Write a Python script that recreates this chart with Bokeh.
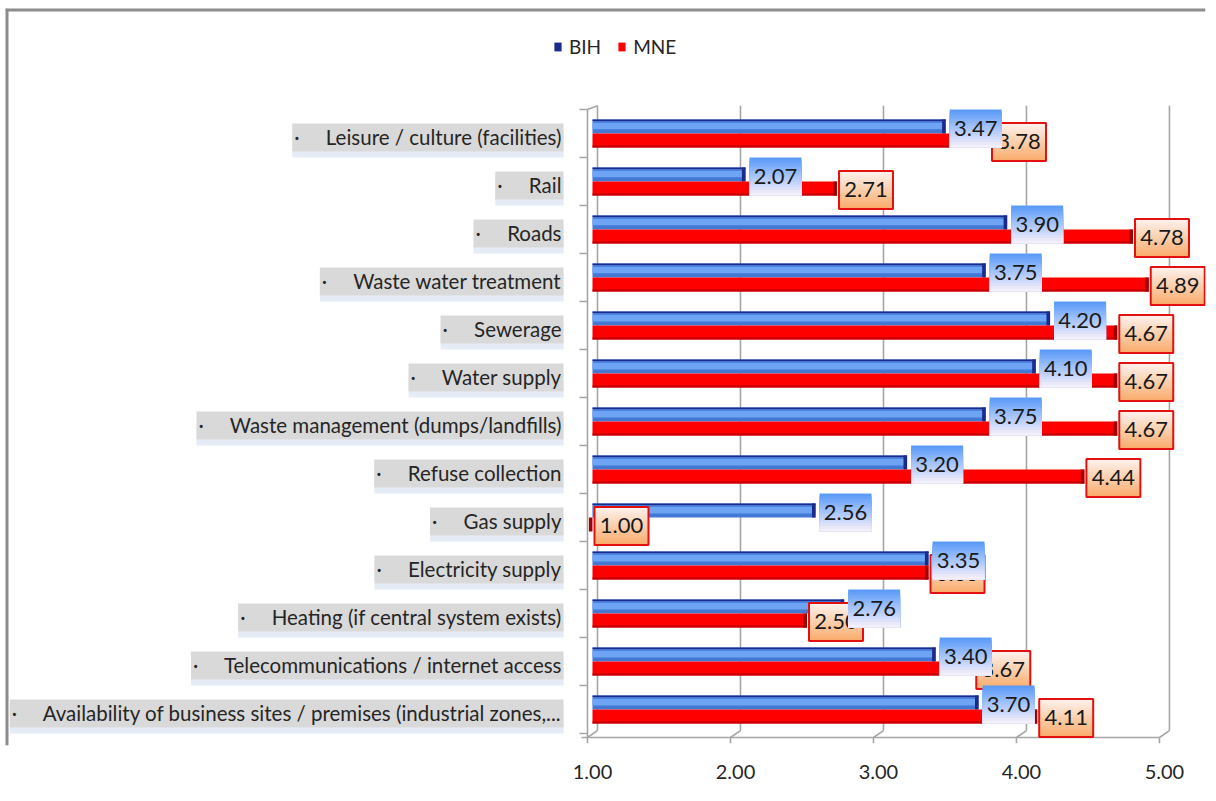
import numpy as np
from bokeh.plotting import figure
from bokeh.models import Range1d, FixedTicker, NumeralTickFormatter, Legend, LegendItem
from bokeh.core.properties import value
from bokeh.embed import file_html
from bokeh.resources import INLINE

# ---------------- data (top to bottom) ----------------
categories = [
    "Leisure / culture (facilities)",
    "Rail",
    "Roads",
    "Waste water treatment",
    "Sewerage",
    "Water supply",
    "Waste management (dumps/landfills)",
    "Refuse collection",
    "Gas supply",
    "Electricity supply",
    "Heating (if central system exists)",
    "Telecommunications / internet access",
    "Availability of business sites / premises (industrial zones,...",
]
bih = [3.47, 2.07, 3.90, 3.75, 4.20, 4.10, 3.75, 3.20, 2.56, 3.35, 2.76, 3.40, 3.70]
mne = [3.78, 2.71, 4.78, 4.89, 4.67, 4.67, 4.67, 4.44, 1.00, 3.35, 2.50, 3.67, 4.11]
series_names = ["BIH", "MNE"]
x_ticks = [1, 2, 3, 4, 5]

# ---------------- setup ----------------
FONT = value("Lato")
PXX = 143.0   # pixels per x unit
PXY = 48.0    # pixels per y unit
n = len(categories)
ypos = np.arange(n)[::-1].astype(float)
bih_a = np.array(bih)
mne_a = np.array(mne)

X0, X1 = -3.105, 5.287
Y0, Y1 = -0.75, 14.604
p = figure(width=1203, height=785,
           x_range=Range1d(X0, X1), y_range=Range1d(Y0, Y1),
           output_backend="svg", toolbar_location=None, y_axis_location=None,
           min_border_left=0, min_border_right=3, min_border_top=0, min_border_bottom=48,
           styles={"margin-left": "5px", "margin-top": "8px"})
p.outline_line_color = None
p.xgrid.visible = False
p.ygrid.visible = False
p.background_fill_color = "white"
p.border_fill_color = "white"

# chart-area frame (top and left edges, as in the cropped original)
p.segment(x0=[X0, X0], y0=[Y1, Y0], x1=[X1, X0], y1=[Y1, Y1],
          line_color="#8c8c8c", line_width=6)

# ---------------- 3D walls / axes ----------------
FRONT = -5 / PXX
BACK = 5 / PXX
Y_FLOOR = -0.583
Y_BACK_BOTTOM = -0.44
Y_TOP_FRONT = 12.5
Y_TOP_BACK = 12.58
AX_COL = "#a6a6a6"

xt = np.array(x_ticks, dtype=float)
p.segment(x0=xt + BACK, y0=Y_BACK_BOTTOM, x1=xt + BACK, y1=Y_TOP_BACK,
          line_color=AX_COL, line_width=1.6)
p.segment(x0=xt + FRONT, y0=Y_FLOOR, x1=xt + BACK, y1=Y_BACK_BOTTOM,
          line_color=AX_COL, line_width=1.6)
p.segment(x0=xt + FRONT, y0=Y_FLOOR, x1=xt + FRONT, y1=Y_FLOOR - 0.12,
          line_color=AX_COL, line_width=1.6)
p.segment(x0=[xt[0] + FRONT - 6 / PXX], y0=[Y_FLOOR], x1=[xt[-1] + FRONT], y1=[Y_FLOOR],
          line_color=AX_COL, line_width=1.6)
p.segment(x0=[xt[0] + FRONT], y0=[Y_FLOOR], x1=[xt[0] + FRONT], y1=[Y_TOP_FRONT],
          line_color=AX_COL, line_width=1.6)
p.segment(x0=[xt[0] + FRONT], y0=[Y_TOP_FRONT], x1=[xt[0] + BACK], y1=[Y_TOP_BACK],
          line_color=AX_COL, line_width=1.6)
yb = np.append(ypos + 0.5, -0.5)
p.segment(x0=xt[0] + FRONT - 8 / PXX, y0=yb, x1=xt[0] + FRONT, y1=yb,
          line_color=AX_COL, line_width=1.6)

# ---------------- category labels ----------------
lab_text = ["\u00b7" + "\u00a0" * 5 + c for c in categories]
lab_x = np.full(n, 1 - 29 / PXX)
lab_y = ypos - 4 / PXY
p.text(x=lab_x, y=lab_y, text=lab_text, text_align="right", text_baseline="middle",
       text_font=FONT, text_font_size="20.5px", text_alpha=0, y_offset=6,
       background_fill_color="#e6ecf5", padding=2)
p.text(x=lab_x, y=lab_y, text=lab_text, text_align="right", text_baseline="middle",
       text_font=FONT, text_font_size="20.5px", text_color="#262626",
       background_fill_color="#d9d9d9", padding=2)

# ---------------- bars ----------------
H = 14 / PXY
b_y = ypos + 7 / PXY
m_y = ypos - 7 / PXY

p.hbar(y=b_y, left=1, right=bih_a, height=H, fill_color="#4478d6", line_color=None)
p.hbar(y=b_y + 0.01, left=1, right=bih_a, height=0.14, fill_color="#6ea4f4", line_color=None)
p.hbar(y=b_y + H / 2 - 0.015, left=1, right=bih_a, height=0.03, fill_color="#1c2a8c", line_color=None)
bih_cap = p.hbar(y=b_y, left=bih_a - 0.025, right=bih_a, height=H, fill_color="#1c2a8c", line_color=None)

mne_base = p.hbar(y=m_y, left=1, right=mne_a, height=H, fill_color="#ff0000", line_color=None)
p.hbar(y=m_y - H / 2 + 0.02, left=1, right=mne_a, height=0.04, fill_color="#c00000", line_color=None)
p.hbar(y=m_y, left=mne_a - 0.025, right=mne_a, height=H, fill_color="#a00000", line_color=None)


# ---------------- data labels ----------------
def hexmix(c1, c2, t):
    a = [int(c1[i:i + 2], 16) for i in (1, 3, 5)]
    b = [int(c2[i:i + 2], 16) for i in (1, 3, 5)]
    return "#" + "".join("%02x" % round(a[k] + (b[k] - a[k]) * t) for k in range(3))


def label_boxes(vals, dx, w, dy, top_col, bot_col, border):
    left = vals + dx / PXX
    right = left + w / PXX
    yc = ypos + dy / PXY
    h = 38 / PXY
    nb = 14
    for j in range(nb):
        top = yc + h / 2 - j * h / nb
        p.quad(left=left, right=right, top=top, bottom=yc - h / 2,
               fill_color=hexmix(top_col, bot_col, j / (nb - 1)), line_color=None)
    if border:
        p.quad(left=left, right=right, top=yc + h / 2, bottom=yc - h / 2,
               fill_color=None, line_color=border, line_width=2)
    p.text(x=(left + right) / 2, y=yc, text=["%.2f" % v for v in vals],
           text_align="center", text_baseline="middle", text_font=FONT,
           text_font_size="22px", text_color="#1a1a1a")


label_boxes(mne_a, 2, 54, -8.5, "#fdf0ea", "#f9ae6e", "#e41010")
label_boxes(bih_a, 4, 52, 5, "#5c9cf8", "#f4eefa", None)

# ---------------- axis ----------------
p.xaxis.ticker = FixedTicker(ticks=x_ticks)
p.xaxis.formatter = NumeralTickFormatter(format="0.00")
p.xaxis.axis_line_color = None
p.xaxis.major_tick_line_color = None
p.xaxis.minor_tick_line_color = None
p.xaxis.major_label_standoff = 13
p.xaxis.major_label_text_font = "Lato"
p.xaxis.major_label_text_font_size = "20px"
p.xaxis.major_label_text_color = "#262626"

# ---------------- legend ----------------
legend = Legend(items=[LegendItem(label=series_names[0], renderers=[bih_cap]),
                       LegendItem(label=series_names[1], renderers=[mne_base])],
                location=(548, 687), orientation="horizontal",
                glyph_width=9, glyph_height=11, label_standoff=7, spacing=16,
                padding=0, margin=0, border_line_color=None, background_fill_alpha=0,
                label_text_font="Lato", label_text_font_size="19px", label_text_color="#262626")
p.add_layout(legend)

open("out.html", "w").write(file_html(p, INLINE))
